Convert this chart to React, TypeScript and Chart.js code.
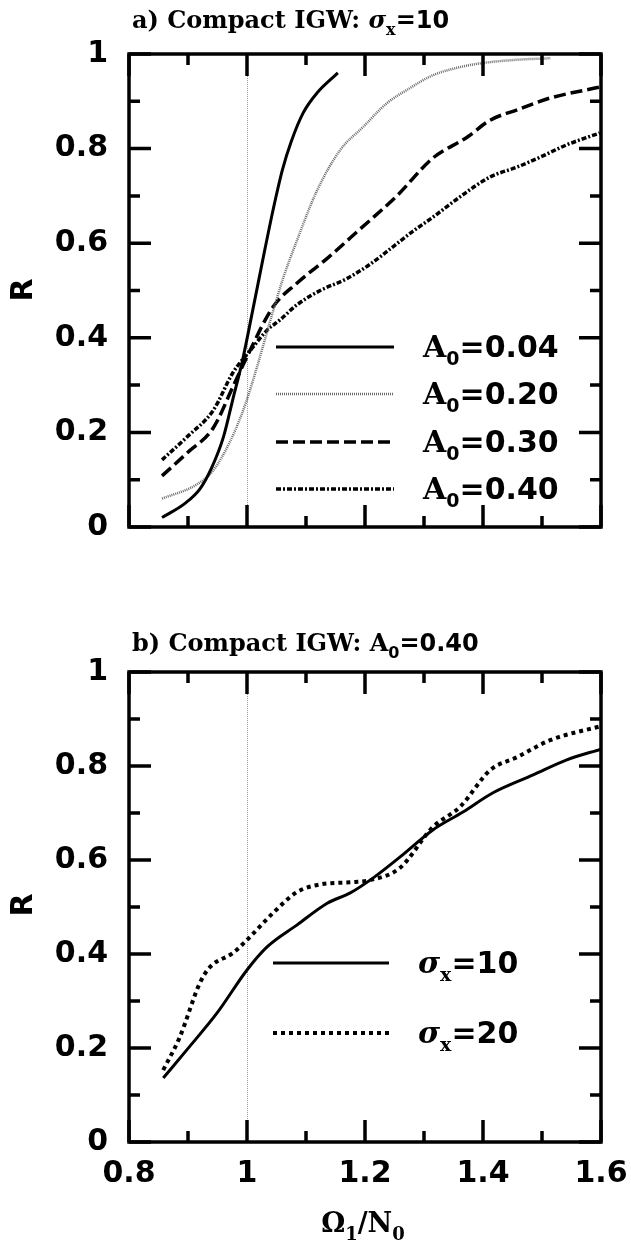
import React, { useEffect, useRef } from "react";
import { Chart, registerables } from "chart.js";

Chart.register(...registerables);

// ---------- data ----------
const X_MIN = 0.8;
const X_MAX = 1.6;
const Y_MIN = 0;
const Y_MAX = 1;
const REF_X = 1.0;
const X_MAJOR = [0.8, 1.0, 1.2, 1.4, 1.6];
const X_MINOR = [0.9, 1.1, 1.3, 1.5];
const Y_MAJOR = [0, 0.2, 0.4, 0.6, 0.8, 1.0];
const Y_MINOR = [0.1, 0.3, 0.5, 0.7, 0.9];

// Panel a) sigma_x = 10
const A004_X = [0.856, 0.895, 0.92, 0.94, 0.96, 0.976, 0.992, 1.01, 1.03, 1.045, 1.06, 1.075, 1.095, 1.119, 1.154];
const A004_R = [0.02, 0.05, 0.08, 0.125, 0.19, 0.27, 0.35, 0.46, 0.585, 0.675, 0.755, 0.815, 0.875, 0.918, 0.96];

const A020_X = [0.856, 0.915, 0.943, 0.971, 0.99, 1.0, 1.015, 1.03, 1.045, 1.061, 1.085, 1.119, 1.158, 1.197, 1.237, 1.271, 1.315, 1.36, 1.4, 1.46, 1.514];
const A020_R = [0.06, 0.09, 0.12, 0.18, 0.235, 0.27, 0.33, 0.395, 0.46, 0.525, 0.607, 0.712, 0.797, 0.846, 0.896, 0.924, 0.955, 0.972, 0.981, 0.988, 0.991];

const A030_X = [0.856, 0.898, 0.943, 0.976, 1.0, 1.044, 1.085, 1.136, 1.19, 1.254, 1.315, 1.373, 1.412, 1.458, 1.514, 1.598];
const A030_R = [0.108, 0.156, 0.21, 0.296, 0.36, 0.465, 0.516, 0.568, 0.628, 0.7, 0.78, 0.824, 0.86, 0.882, 0.907, 0.93];

const A040_X = [0.856, 0.898, 0.943, 0.976, 1.01, 1.034, 1.056, 1.085, 1.124, 1.169, 1.208, 1.25, 1.281, 1.315, 1.361, 1.412, 1.458, 1.497, 1.542, 1.598];
const A040_R = [0.142, 0.19, 0.247, 0.326, 0.38, 0.416, 0.438, 0.47, 0.5, 0.525, 0.555, 0.595, 0.625, 0.655, 0.698, 0.74, 0.761, 0.782, 0.808, 0.833];

// Panel b) A0 = 0.40
const S10_X = [0.858, 0.898, 0.949, 1.0, 1.034, 1.085, 1.136, 1.175, 1.214, 1.259, 1.315, 1.366, 1.417, 1.485, 1.542, 1.6];
const S10_R = [0.136, 0.196, 0.274, 0.366, 0.415, 0.462, 0.508, 0.53, 0.562, 0.606, 0.664, 0.702, 0.743, 0.781, 0.813, 0.836];

const S20_X = [0.858, 0.886, 0.92, 0.937, 0.976, 1.0, 1.044, 1.085, 1.124, 1.18, 1.208, 1.259, 1.315, 1.361, 1.412, 1.458, 1.514, 1.6];
const S20_R = [0.153, 0.223, 0.338, 0.372, 0.402, 0.43, 0.487, 0.532, 0.548, 0.553, 0.557, 0.583, 0.67, 0.713, 0.791, 0.819, 0.855, 0.885];

const LEGEND_A = ["0.04", "0.20", "0.30", "0.40"];
const LEGEND_B = ["10", "20"];

// ---------- styles ----------
const SERIF = '"DejaVu Serif"';
const SANS = '"DejaVu Sans"';

type Seg = { t: string; font: string; dy?: number };

function drawRich(ctx: CanvasRenderingContext2D, x: number, y: number, segs: Seg[]) {
  let cx = x;
  for (const s of segs) {
    ctx.font = s.font;
    ctx.fillText(s.t, cx, y + (s.dy || 0));
    cx += ctx.measureText(s.t).width;
  }
}

type LineStyle = { color: string; width: number; dash: number[] };

const ST_A004: LineStyle = { color: "#000", width: 3, dash: [] };
const ST_A020: LineStyle = { color: "#6a6a6a", width: 2.5, dash: [1, 1] };
const ST_A030: LineStyle = { color: "#000", width: 3.5, dash: [12, 5] };
const ST_A040: LineStyle = { color: "#000", width: 3.5, dash: [5, 2, 2, 2] };
const ST_S10: LineStyle = { color: "#000", width: 3, dash: [] };
const ST_S20: LineStyle = { color: "#000", width: 4, dash: [4, 4] };

function pts(xs: number[], ys: number[]) {
  return xs.map((x, i) => ({ x, y: ys[i] }));
}

function ds(label: string, xs: number[], ys: number[], st: LineStyle) {
  return {
    label,
    data: pts(xs, ys),
    showLine: true,
    borderColor: st.color,
    borderWidth: st.width,
    borderDash: st.dash,
    pointRadius: 0,
    fill: false,
    cubicInterpolationMode: "monotone" as const,
  };
}

type PanelCfg = {
  id: string;
  title: Seg[];
  titleX: number;
  titleY: number;
  legend: { st: LineStyle; label: Seg[] }[];
  legX0: number;
  legX1: number;
  legTextX: number;
  legY: number[];
  rY: number;
  xTitle?: { segs: Seg[]; cx: number; y: number };
};

function panelPlugin(cfg: PanelCfg) {
  return {
    id: "panel_" + cfg.id,
    beforeDatasetsDraw(chart: any) {
      const { ctx, chartArea: a, scales } = chart;
      const px = Math.round(scales.x.getPixelForValue(REF_X)) + 0.5;
      ctx.save();
      ctx.strokeStyle = "#9a9a9a";
      ctx.lineWidth = 1;
      ctx.setLineDash([1, 1]);
      ctx.beginPath();
      ctx.moveTo(px, a.top);
      ctx.lineTo(px, a.bottom);
      ctx.stroke();
      ctx.restore();
    },
    afterDatasetsDraw(chart: any) {
      const { ctx, chartArea: a, scales } = chart;
      const xs = scales.x;
      const ys = scales.y;
      ctx.save();
      ctx.strokeStyle = "#000";
      ctx.fillStyle = "#000";
      ctx.lineWidth = 3.5;
      ctx.setLineDash([]);
      ctx.lineCap = "butt";
      ctx.strokeRect(a.left, a.top, a.right - a.left, a.bottom - a.top);
      const MAJ = 22;
      const MIN = 11;
      ctx.beginPath();
      const xt = (v: number, L: number) => {
        const p = xs.getPixelForValue(v);
        ctx.moveTo(p, a.bottom);
        ctx.lineTo(p, a.bottom - L);
        ctx.moveTo(p, a.top);
        ctx.lineTo(p, a.top + L);
      };
      const yt = (v: number, L: number) => {
        const p = ys.getPixelForValue(v);
        ctx.moveTo(a.left, p);
        ctx.lineTo(a.left + L, p);
        ctx.moveTo(a.right, p);
        ctx.lineTo(a.right - L, p);
      };
      X_MAJOR.forEach((v) => xt(v, MAJ));
      X_MINOR.forEach((v) => xt(v, MIN));
      Y_MAJOR.forEach((v) => yt(v, MAJ));
      Y_MINOR.forEach((v) => yt(v, MIN));
      ctx.stroke();

      // legend
      cfg.legend.forEach((it, i) => {
        const y = cfg.legY[i];
        ctx.save();
        ctx.strokeStyle = it.st.color;
        ctx.lineWidth = it.st.width;
        ctx.setLineDash(it.st.dash);
        ctx.beginPath();
        ctx.moveTo(cfg.legX0, y);
        ctx.lineTo(cfg.legX1, y);
        ctx.stroke();
        ctx.restore();
        ctx.textBaseline = "alphabetic";
        ctx.textAlign = "left";
        drawRich(ctx, cfg.legTextX, y + 10, it.label);
      });

      // title
      ctx.textBaseline = "alphabetic";
      ctx.textAlign = "left";
      drawRich(ctx, cfg.titleX, cfg.titleY, cfg.title);

      // y title
      ctx.save();
      ctx.translate(24, cfg.rY);
      ctx.rotate(-Math.PI / 2);
      ctx.font = `bold 30px ${SANS}`;
      ctx.textAlign = "center";
      ctx.textBaseline = "middle";
      ctx.fillText("R", 0, 0);
      ctx.restore();

      // x title
      if (cfg.xTitle) {
        let w = 0;
        for (const s of cfg.xTitle.segs) {
          ctx.font = s.font;
          w += ctx.measureText(s.t).width;
        }
        ctx.textAlign = "left";
        drawRich(ctx, cfg.xTitle.cx - w / 2, cfg.xTitle.y, cfg.xTitle.segs);
      }
      ctx.restore();
    },
  };
}

const TICK_FONT = { family: SANS, weight: "bold" as const, size: 30 };
const fmt = (v: any) => String(Math.round(Number(v) * 10) / 10);

function makeConfig(datasets: any[], plugin: any, padTop: number, xHeight: number, showXLabels: boolean) {
  return {
    type: "scatter" as const,
    data: { datasets },
    options: {
      animation: false as const,
      responsive: false,
      devicePixelRatio: 1,
      layout: { padding: { top: padTop, right: 30, left: 0, bottom: 0 } },
      plugins: { legend: { display: false }, title: { display: false }, tooltip: { enabled: false } },
      scales: {
        x: {
          type: "linear" as const,
          min: X_MIN,
          max: X_MAX,
          grid: { display: false, drawTicks: false },
          border: { display: false },
          ticks: {
            display: showXLabels,
            stepSize: 0.2,
            padding: 14,
            color: "#000",
            font: TICK_FONT,
            maxRotation: 0,
            autoSkip: false,
            callback: fmt,
          },
          afterFit: (s: any) => {
            s.height = xHeight;
            s.paddingLeft = 0;
            s.paddingRight = 0;
          },
        },
        y: {
          type: "linear" as const,
          min: Y_MIN,
          max: Y_MAX,
          grid: { display: false, drawTicks: false },
          border: { display: false },
          ticks: { stepSize: 0.2, padding: 21, color: "#000", font: TICK_FONT, callback: fmt },
          afterFit: (s: any) => {
            s.width = 129;
            s.paddingTop = 0;
            s.paddingBottom = 0;
          },
        },
      },
    },
    plugins: [plugin],
  };
}

const H1 = 590;
const H2 = 655;
const OFF2 = 590;

const sub = (t: string, size = 19, family = SANS): Seg => ({ t, font: `bold ${size}px ${family}`, dy: 8 });
const big = (t: string, family = SERIF, size = 30): Seg => ({ t, font: `bold ${size}px ${family}` });

export default function App() {
  const r1 = useRef<HTMLCanvasElement>(null);
  const r2 = useRef<HTMLCanvasElement>(null);

  useEffect(() => {
    const pA = panelPlugin({
      id: "a",
      title: [
        { t: "a) Compact IGW: ", font: `bold 24px ${SERIF}` },
        { t: "σ", font: `italic bold 24px ${SERIF}` },
        { t: "x", font: `bold 16px ${SERIF}`, dy: 7 },
        { t: "=10", font: `bold 24px ${SANS}` },
      ],
      titleX: 132,
      titleY: 28,
      legend: [
        { st: ST_A004, label: [big("A"), sub("0"), big("=" + LEGEND_A[0], SANS)] },
        { st: ST_A020, label: [big("A"), sub("0"), big("=" + LEGEND_A[1], SANS)] },
        { st: ST_A030, label: [big("A"), sub("0"), big("=" + LEGEND_A[2], SANS)] },
        { st: ST_A040, label: [big("A"), sub("0"), big("=" + LEGEND_A[3], SANS)] },
      ],
      legX0: 276,
      legX1: 394,
      legTextX: 423,
      legY: [347, 394, 442, 489],
      rY: 290,
    });
    const pB = panelPlugin({
      id: "b",
      title: [
        { t: "b) Compact IGW: A", font: `bold 24px ${SERIF}` },
        { t: "0", font: `bold 16px ${SANS}`, dy: 7 },
        { t: "=0.40", font: `bold 24px ${SANS}` },
      ],
      titleX: 132,
      titleY: 651 - OFF2,
      legend: [
        { st: ST_S10, label: [{ t: "σ", font: `italic bold 30px ${SERIF}` }, sub("x", 19, SERIF), big("=" + LEGEND_B[0], SANS)] },
        { st: ST_S20, label: [{ t: "σ", font: `italic bold 30px ${SERIF}` }, sub("x", 19, SERIF), big("=" + LEGEND_B[1], SANS)] },
      ],
      legX0: 273,
      legX1: 389,
      legTextX: 418,
      legY: [963 - OFF2, 1033 - OFF2],
      rY: 905 - OFF2,
      xTitle: {
        segs: [big("Ω", SERIF, 27), sub("1", 18, SERIF), big("/N", SERIF, 27), sub("0", 18, SERIF)],
        cx: 363,
        y: 1232 - OFF2,
      },
    });

    const c1 = new Chart(
      r1.current as HTMLCanvasElement,
      makeConfig(
        [
          ds("A0=0.04", A004_X, A004_R, ST_A004),
          ds("A0=0.20", A020_X, A020_R, ST_A020),
          ds("A0=0.30", A030_X, A030_R, ST_A030),
          ds("A0=0.40", A040_X, A040_R, ST_A040),
        ],
        pA,
        54,
        H1 - 527,
        false
      ) as any
    );
    const c2 = new Chart(
      r2.current as HTMLCanvasElement,
      makeConfig(
        [ds("σx=10", S10_X, S10_R, ST_S10), ds("σx=20", S20_X, S20_R, ST_S20)],
        pB,
        672 - OFF2,
        H2 - (1142 - OFF2),
        true
      ) as any
    );
    return () => {
      c1.destroy();
      c2.destroy();
    };
  }, []);

  return (
    <div style={{ position: "absolute", left: 0, top: 0, width: 631, height: 1245, background: "#fff" }}>
      <canvas ref={r1} width={631} height={H1} style={{ position: "absolute", left: 0, top: 0, width: 631, height: H1 }} />
      <canvas ref={r2} width={631} height={H2} style={{ position: "absolute", left: 0, top: OFF2, width: 631, height: H2 }} />
    </div>
  );
}
